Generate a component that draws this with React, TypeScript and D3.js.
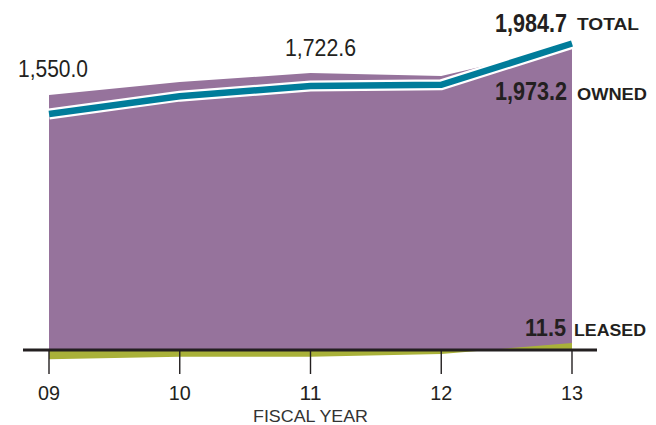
import React from "react";
import * as d3 from "d3";

const years = ["09", "10", "11", "12", "13"];
const total = [1550.0, 1660, 1722.6, 1730, 1984.7];
const owned = [1667, 1747, 1803, 1784, 1973.2];
const leased = [-15, -11, -11, -6.5, 11.5];
const axisTitle = "FISCAL YEAR";

const W = 656;
const H = 425;
const PURPLE = "#96739c";
const TEAL = "#007c9a";
const GREEN = "#a9b139";
const INK = "#231f20";
const FONT = "'Liberation Sans', Arial, Helvetica, sans-serif";

export default function App() {
  const x = d3.scalePoint<string>().domain(years).range([49, 572]);
  const yMain = d3.scaleLinear().domain([1550, 1984.7]).range([114, 43.5]);
  const yBase = d3.scaleLinear().domain([0, 11.5]).range([350, 343]);
  const fmt = d3.format(",.1f");

  const idx = years.map((_, i) => i);
  const purpleArea = d3
    .area<number>()
    .x((i) => x(years[i])!)
    .y0(() => yBase(0))
    .y1((i) => yMain(owned[i]));
  const greenArea = d3
    .area<number>()
    .x((i) => x(years[i])!)
    .y0(() => yBase(0))
    .y1((i) => yBase(leased[i]));
  const totalLine = d3
    .line<number>()
    .x((i) => x(years[i])!)
    .y((i) => yMain(total[i]));

  const last = years.length - 1;
  const xr = x(years[last])!;

  return (
    <svg width={W} height={H} style={{ position: "absolute", left: 0, top: 0, background: "#fff" }}>
      <rect width={W} height={H} fill="#fff" />
      <path d={purpleArea(idx)!} fill={PURPLE} />
      <path d={greenArea(idx)!} fill={GREEN} />
      <path d={totalLine(idx)!} fill="none" stroke="#fff" strokeWidth={11} strokeLinejoin="miter" strokeLinecap="butt" />
      <path d={totalLine(idx)!} fill="none" stroke={TEAL} strokeWidth={6.5} strokeLinejoin="miter" strokeLinecap="butt" />

      {/* axis */}
      <line x1={23} x2={597} y1={yBase(0)} y2={yBase(0)} stroke={INK} strokeWidth={2.8} />
      {years.map((y) => (
        <g key={y}>
          <line x1={x(y)!} x2={x(y)!} y1={yBase(0)} y2={374} stroke={INK} strokeWidth={1.4} />
          <text x={x(y)! - 11} y={400} fontFamily={FONT} fontSize={20} fill={INK} textLength={22} lengthAdjust="spacingAndGlyphs">
            {y}
          </text>
        </g>
      ))}
      <text x={253} y={422} fontFamily={FONT} fontSize={17} fill="#333" textLength={115} lengthAdjust="spacingAndGlyphs">
        {axisTitle}
      </text>

      {/* value labels */}
      <text x={18} y={77} fontFamily={FONT} fontSize={23} fill={INK} textLength={70} lengthAdjust="spacingAndGlyphs">
        {fmt(total[0])}
      </text>
      <text x={285} y={56} fontFamily={FONT} fontSize={23} fill={INK} textLength={71} lengthAdjust="spacingAndGlyphs">
        {fmt(total[2])}
      </text>

      <text x={xr - 77} y={32} fontFamily={FONT} fontWeight="bold" fontSize={26} fill={INK} textLength={72} lengthAdjust="spacingAndGlyphs">
        {fmt(total[last])}
      </text>
      <text x={xr + 5} y={30} fontFamily={FONT} fontWeight="bold" fontSize={17} fill={INK} textLength={62} lengthAdjust="spacingAndGlyphs">
        TOTAL
      </text>

      <text x={xr - 77} y={100} fontFamily={FONT} fontWeight="bold" fontSize={26} fill={INK} textLength={72} lengthAdjust="spacingAndGlyphs">
        {fmt(owned[last])}
      </text>
      <text x={xr + 5} y={100} fontFamily={FONT} fontWeight="bold" fontSize={17} fill={INK} textLength={70} lengthAdjust="spacingAndGlyphs">
        OWNED
      </text>

      <text x={xr - 47} y={336} fontFamily={FONT} fontWeight="bold" fontSize={23} fill={INK} textLength={41} lengthAdjust="spacingAndGlyphs">
        {fmt(leased[last])}
      </text>
      <text x={xr + 2} y={336} fontFamily={FONT} fontWeight="bold" fontSize={16} fill={INK} textLength={72} lengthAdjust="spacingAndGlyphs">
        LEASED
      </text>
    </svg>
  );
}
